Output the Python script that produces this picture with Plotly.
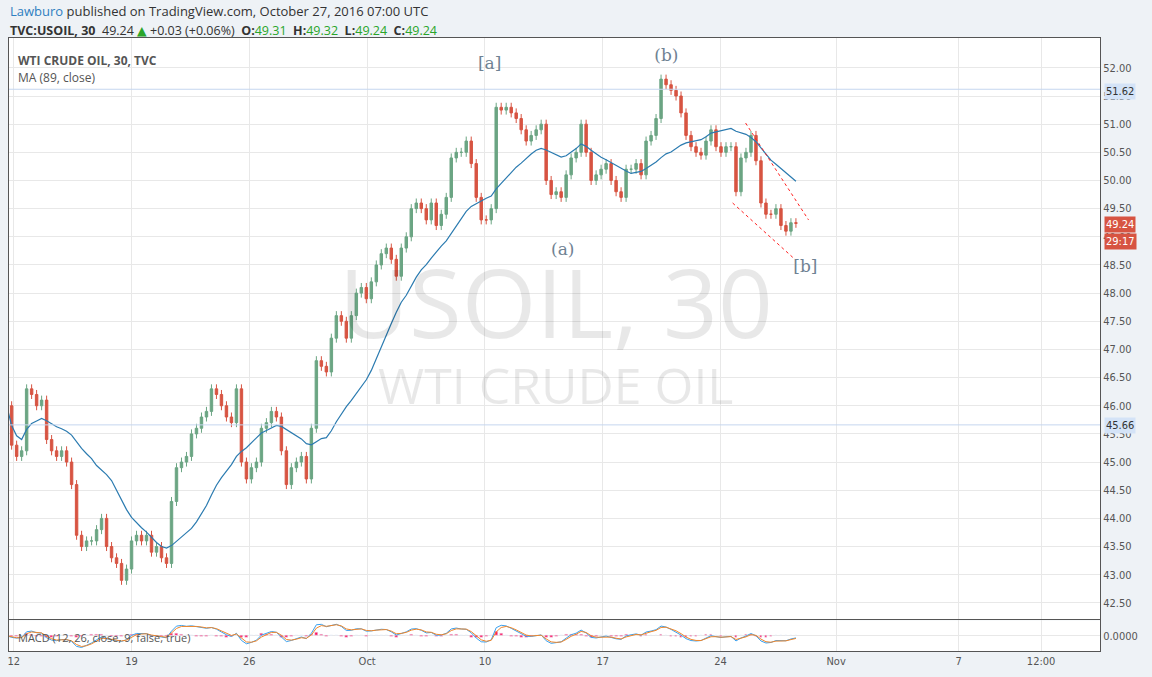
import plotly.graph_objects as go
from plotly.subplots import make_subplots
import pandas as pd
import numpy as np

# closes every ~5 px (about 0.21 trading day), starting at Sep 12 session
closes = [46.0,45.3,45.1,45.2,46.3,46.2,46.0,46.1,45.4,45.2,45.1,45.2,45.0,44.6,43.7,43.5,43.6,43.6,43.8,44.0,
          43.5,43.3,43.2,42.9,43.1,43.6,43.7,43.6,43.7,43.4,43.5,43.3,43.2,44.3,44.9,45.0,45.1,45.5,45.6,45.8,
          45.9,46.3,46.2,46.0,45.8,45.7,46.3,45.0,44.7,44.9,45.0,45.6,45.7,45.9,45.8,45.2,44.6,44.9,45.0,45.1,
          44.7,45.6,46.8,46.7,46.6,47.2,47.6,47.5,47.2,47.6,48.0,48.1,47.9,48.2,48.5,48.7,48.8,48.6,48.3,48.8,
          49.0,49.5,49.6,49.5,49.3,49.6,49.2,49.4,49.7,50.4,50.5,50.5,50.7,50.3,49.7,49.3,49.3,49.5,51.3,51.25,
          51.3,51.2,51.1,50.9,50.7,50.8,50.9,51.0,50.0,49.75,49.8,49.7,50.1,50.4,50.5,51.0,50.5,50.0,50.1,50.2,
          50.3,50.0,49.8,49.7,50.2,50.2,50.3,50.1,50.7,50.8,51.1,51.8,51.7,51.6,51.5,51.2,50.8,50.6,50.5,50.45,
          50.7,50.9,50.6,50.5,50.6,50.6,49.8,50.4,50.5,50.8,50.35,49.6,49.4,49.4,49.5,49.2,49.1,49.25,49.24]
start_day = -0.30      # trading-day index of first bar (Sep 12 = 0)
bar_step = 0.212       # trading days per bar
tick_days = [0, 5, 10, 15, 20, 25, 30, 34.9, 40.1, 43.6]
tick_text = ["12", "19", "26", "Oct", "10", "17", "24", "Nov", "7", "12:00"]
price_ticks = [42.5 + 0.5 * i for i in range(20)]
hlines = [51.62, 45.66]
chan_upper_x = [31.06, 33.73]; chan_upper_y = [51.02, 49.30]
chan_lower_x = [30.51, 33.18]; chan_lower_y = [49.60, 48.59]
wave_labels = ["[a]", "(b)", "(a)", "[b]"]
wave_x = [20.2, 27.7, 23.3, 33.6]
wave_y = [52.05, 52.2, 48.75, 48.45]

n = len(closes)
xs = [start_day + i * bar_step for i in range(n)]
opens = [closes[0] + 0.1] + closes[:-1]
highs = [max(o, c) + 0.08 for o, c in zip(opens, closes)]
lows = [min(o, c) - 0.08 for o, c in zip(opens, closes)]

s = pd.Series(closes)
ma = s.rolling(18, min_periods=1).mean()
macd = s.ewm(span=3).mean() - s.ewm(span=5).mean()
sig = macd.ewm(span=2).mean()
hist = macd - sig

fig = make_subplots(rows=2, cols=1, shared_xaxes=True, vertical_spacing=0.002, row_heights=[0.95, 0.05])
fig.add_trace(go.Candlestick(x=xs, open=opens, high=highs, low=lows, close=closes,
    increasing=dict(line=dict(color="#6ba583", width=1), fillcolor="#6ba583"),
    decreasing=dict(line=dict(color="#d75442", width=1), fillcolor="#d75442"),
    whiskerwidth=0, showlegend=False), row=1, col=1)
fig.add_trace(go.Scatter(x=xs, y=ma, mode="lines", line=dict(color="#2b7bb0", width=1.2), showlegend=False), row=1, col=1)
for h in hlines:
    fig.add_trace(go.Scatter(x=[-0.2, 46.1], y=[h, h], mode="lines", line=dict(color="#c5d6ef", width=1), showlegend=False), row=1, col=1)
for cx, cy in [(chan_upper_x, chan_upper_y), (chan_lower_x, chan_lower_y)]:
    fig.add_trace(go.Scatter(x=cx, y=cy, mode="lines", line=dict(color="#ff2020", width=1, dash="dot"), showlegend=False), row=1, col=1)
fig.add_trace(go.Scatter(x=wave_x, y=wave_y, mode="text", text=wave_labels,
    textfont=dict(family="DejaVu Serif", size=17, color="#6f8293"), showlegend=False), row=1, col=1)

fig.add_trace(go.Bar(x=xs, y=hist, marker_color="#ff1060", width=0.12, showlegend=False), row=2, col=1)
fig.add_trace(go.Scatter(x=xs, y=macd, mode="lines", line=dict(color="#3aa0ee", width=1), showlegend=False), row=2, col=1)
fig.add_trace(go.Scatter(x=xs, y=sig, mode="lines", line=dict(color="#f0862a", width=1), showlegend=False), row=2, col=1)

ax = dict(showgrid=True, gridcolor="#e8e8e8", zeroline=False, showline=True, linecolor="#555", mirror=True,
          tickfont=dict(family="DejaVu Sans Condensed, DejaVu Sans", size=11, color="#555"))
fig.update_xaxes(range=[-0.2, 46.1], tickvals=tick_days, ticktext=tick_text, rangeslider_visible=False, **ax)
fig.update_xaxes(showticklabels=False, row=1, col=1)
fig.update_yaxes(side="right", range=[42.21, 52.53], tickvals=price_ticks, tickformat=".2f", row=1, col=1, **ax)
m = float(np.abs(macd).max()) * 1.3
fig.update_yaxes(side="right", range=[-m, m], tickvals=[0], ticktext=["0.0000"], row=2, col=1, **ax)

fig.update_layout(
    width=1152, height=677, margin=dict(l=7, r=52, t=38, b=26),
    paper_bgcolor="#eef2f6", plot_bgcolor="white", bargap=0,
    font=dict(family="Open Sans, DejaVu Sans", size=12, color="#333"))

def ca(text, x, y, size=12, color="#333", xanchor="left", **kw):
    fig.add_annotation(text=text, x=(x - 7) / (1152 - 59), y=(651 - y) / (651 - 38), xref="paper", yref="paper",
                       showarrow=False, xanchor=xanchor, yanchor="middle", font=dict(size=size, color=color, family=kw.pop("family", "Open Sans, DejaVu Sans")), **kw)

ca("<span style='color:#2f7fc1'>Lawburo</span> published on TradingView.com, October 27, 2016 07:00 UTC", 6, 11, size=13)
ca("<b>TVC:USOIL, 30</b>  49.24 <span style='color:#2aa52a'>▲</span> +0.03 (+0.06%)  <b>O:</b><span style='color:#2aa52a'>49.31</span>  <b>H:</b><span style='color:#2aa52a'>49.32</span>  <b>L:</b><span style='color:#2aa52a'>49.24</span>  <b>C:</b><span style='color:#2aa52a'>49.24</span>", 6, 30, size=12.5)
ca("<b>WTI CRUDE OIL, 30, TVC</b>", 14, 60, size=12, color="#555")
ca("MA (89, close)", 14, 77, size=12, color="#555")
ca("USOIL, 30", 555, 300, size=96, color="rgba(0,0,0,0.09)", xanchor="center")
ca("WTI CRUDE OIL", 555, 385, size=50, color="rgba(0,0,0,0.09)", xanchor="center")
ca("MACD (12, 26, close, 9, false, true)", 14, 637, size=11, color="#555")
for txt, y, bg, fc in [("51.62", 91, "#d4e3f7", "#333"), ("45.66", 425, "#d4e3f7", "#333"), ("49.24", 224, "#d75442", "white"), ("29:17", 241, "#d75442", "white")]:
    ca(txt, 1104, y, size=11, color=fc, bgcolor=bg, family="DejaVu Sans Condensed, DejaVu Sans")

fig.write_html("out.html", config={"displayModeBar": False},
               post_script="document.body.style.margin='0';document.body.style.padding='0';")
